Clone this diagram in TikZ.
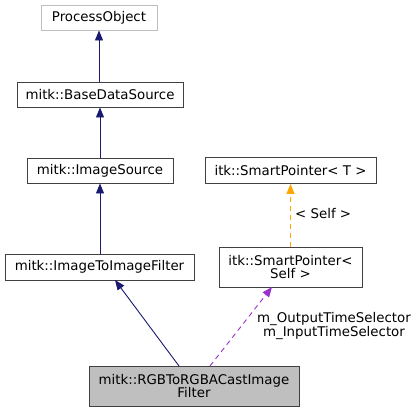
\documentclass[tikz,border=0pt]{standalone}
\usepackage{fontspec}
\setmainfont{DejaVu Sans}
\usetikzlibrary{arrows.meta}
\definecolor{navy}{RGB}{25,25,112}
\definecolor{orch}{RGB}{153,50,204}
\definecolor{orng}{RGB}{255,165,0}
\definecolor{bord}{RGB}{64,64,64}
\definecolor{lgrey}{RGB}{191,191,191}
\begin{document}
\begin{tikzpicture}[x=1bp,y=-1bp,
  cls/.style={draw=bord,line width=0.9bp,fill=white,inner sep=0pt,font=\fontsize{13.4}{14}\selectfont,align=center,text=black},
  inh/.style={navy,line width=0.9bp,-{Triangle[length=10bp,width=8bp]}},
  use/.style={line width=0.9bp,dashed,dash pattern=on 5bp off 4bp,-{Triangle[length=10bp,width=8bp]}},
  lbl/.style={font=\fontsize{13.4}{14}\selectfont,align=center,inner sep=0pt}]
\useasboundingbox (0,0) rectangle (415,412);
\node[cls,draw=lgrey,minimum width=116bp,minimum height=25bp] (po) at (99,17.5) {ProcessObject};
\node[cls,minimum width=166bp,minimum height=25bp] (bds) at (100,94.5) {mitk::BaseDataSource};
\node[cls,minimum width=146bp,minimum height=25bp] (is) at (100,170.5) {mitk::ImageSource};
\node[cls,minimum width=189bp,minimum height=26bp] (itif) at (99.5,267) {mitk::ImageToImageFilter};
\node[cls,minimum width=171bp,minimum height=26bp] (spt) at (290.5,170.5) {itk::SmartPointer< T >};
\node[cls,minimum width=143bp,minimum height=40bp] (sps) at (290.5,267) {itk::SmartPointer<\\Self >};
\node[cls,fill=lgrey,minimum width=210bp,minimum height=40bp] (rgb) at (194,386) {mitk::RGBToRGBACastImage\\Filter};
\draw[inh] (bds.north -| po.south) -- (po.south);
\draw[inh] (is.north -| bds.south) -- (bds.south);
\draw[inh] (itif.north -| is.south) -- (is.south);
\coordinate (a1) at (179,366);
\coordinate (a2) at (115,280);
\draw[inh] (a1) -- (a2);
\coordinate (b1) at (210,366);
\coordinate (b2) at (272,287);
\draw[use,orch] (b1) -- (b2);
\draw[use,orng] (sps.north) -- (spt.south);
\node[lbl,anchor=west] (ls) at (295,214) {< Self >};
\node[lbl] (lm) at (334,326) {m\_OutputTimeSelector\\m\_InputTimeSelector};
\end{tikzpicture}
\end{document}
